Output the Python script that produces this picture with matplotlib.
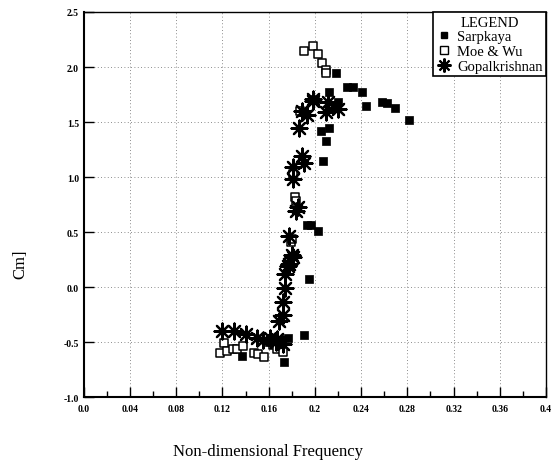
import matplotlib
matplotlib.use("Agg")
import matplotlib.pyplot as plt
from matplotlib.ticker import MultipleLocator, FixedLocator
from matplotlib.lines import Line2D

sarp_x = [0.137, 0.173, 0.177, 0.191, 0.160, 0.195, 0.193, 0.197, 0.203, 0.207, 0.210,
          0.205, 0.212, 0.212, 0.220, 0.218, 0.228, 0.233, 0.241, 0.244, 0.258, 0.262,
          0.269, 0.281]
sarp_y = [-0.63, -0.68, -0.46, -0.44, -0.50, 0.07, 0.56, 0.56, 0.51, 1.15, 1.33,
          1.42, 1.45, 1.77, 1.68, 1.945, 1.82, 1.82, 1.77, 1.65, 1.68, 1.67,
          1.63, 1.52]

moe_x = [0.118, 0.121, 0.124, 0.129, 0.133, 0.138, 0.147, 0.151, 0.156, 0.164, 0.167,
         0.172, 0.179, 0.180, 0.181, 0.183, 0.184, 0.187, 0.191, 0.198, 0.203, 0.206,
         0.210, 0.210, 0.200]
moe_y = [-0.60, -0.51, -0.58, -0.56, -0.56, -0.54, -0.60, -0.61, -0.64, -0.53, -0.56,
         -0.59, 0.41, 0.44, 1.03, 0.82, 0.78, 1.60, 2.15, 2.19, 2.12, 2.04,
         1.97, 1.95, 1.70]

gop_x = [0.120, 0.130, 0.140, 0.150, 0.155, 0.161, 0.167, 0.166, 0.172, 0.169, 0.172,
         0.172, 0.174, 0.174, 0.177, 0.178, 0.180, 0.181, 0.178, 0.184, 0.185, 0.181,
         0.181, 0.189, 0.191, 0.186, 0.189, 0.193, 0.198, 0.198, 0.211, 0.210, 0.220]
gop_y = [-0.40, -0.40, -0.43, -0.46, -0.48, -0.46, -0.47, -0.50, -0.52, -0.31, -0.25,
         -0.14, -0.01, 0.12, 0.19, 0.21, 0.29, 0.27, 0.46, 0.69, 0.73, 0.98,
         1.09, 1.19, 1.13, 1.45, 1.60, 1.56, 1.69, 1.71, 1.68, 1.59, 1.62]

x_ticks = [0.0, 0.04, 0.08, 0.12, 0.16, 0.2, 0.24, 0.28, 0.32, 0.36, 0.4]
x_labels = ["0.0", "0.04", "0.08", "0.12", "0.16", "0.2", "0.24", "0.28", "0.32", "0.36", "0.4"]
y_ticks = [-1.0, -0.5, 0.0, 0.5, 1.0, 1.5, 2.0, 2.5]
y_labels = ["-1.0", "-0.5", "0.0", "0.5", "1.0", "1.5", "2.0", "2.5"]

serif = ["Liberation Serif", "DejaVu Serif"]

fig = plt.figure(figsize=(5.51, 4.64), dpi=100)
ax = fig.add_axes([0.152, 0.142, 0.839, 0.830])

ax.set_xlim(0, 0.4)
ax.set_ylim(-1.0, 2.5)

ax.grid(True, which="major", linestyle=(0, (1, 3)), color="black", linewidth=0.6, alpha=0.6)
ax.set_axisbelow(True)

ax.scatter(sarp_x, sarp_y, marker="s", s=30, c="black", edgecolors="black", linewidths=0.5, zorder=3)
ax.scatter(moe_x, moe_y, marker="s", s=38, facecolors="white", edgecolors="black", linewidths=1.1, zorder=3)
ax.scatter(gop_x, gop_y, marker=(8, 2, 0), s=130, c="black", linewidths=1.6, zorder=4)

ax.xaxis.set_major_locator(FixedLocator(x_ticks))
ax.set_xticklabels(x_labels)
ax.xaxis.set_minor_locator(MultipleLocator(0.02))
ax.yaxis.set_major_locator(FixedLocator(y_ticks))
ax.set_yticklabels(y_labels)

ax.tick_params(axis="both", which="major", direction="in", length=7, width=1.0, labelsize=7)
ax.tick_params(axis="x", which="minor", direction="in", length=4, width=1.0)
ax.tick_params(axis="x", which="major", pad=5)
for lab in ax.get_xticklabels() + ax.get_yticklabels():
    lab.set_fontfamily(serif)
    lab.set_fontweight("bold")

for side in ["left", "bottom"]:
    ax.spines[side].set_linewidth(1.5)
for side in ["top", "right"]:
    ax.spines[side].set_linewidth(1.0)

fig.text(268 / 551, 1 - 452 / 464, "Non-dimensional Frequency", fontsize=12, family=serif,
         ha="center", va="center")
fig.text(20 / 551, 1 - 264 / 464, "Cm]", fontsize=12, family=serif, rotation=90,
         ha="center", va="center")

handles = [
    Line2D([], [], linestyle="none", marker="s", markersize=5, color="black"),
    Line2D([], [], linestyle="none", marker="s", markersize=6, markerfacecolor="white",
           markeredgecolor="black", markeredgewidth=1.0),
    Line2D([], [], linestyle="none", marker=(8, 2, 0), markersize=10, color="black", markeredgewidth=1.5),
]
leg = ax.legend(handles, ["Sarpkaya", "Moe & Wu", "Gopalkrishnan"], title="LEGEND",
                loc="upper right", bbox_to_anchor=(1.0, 1.0), frameon=True, fancybox=False,
                edgecolor="black", framealpha=1, borderpad=0.25, handletextpad=0.4,
                labelspacing=0.1, handlelength=1.0, borderaxespad=0.0,
                prop={"family": serif, "size": 10.5})
leg.get_title().set_fontfamily(serif)
leg.get_title().set_fontsize(10.5)
leg.get_frame().set_linewidth(1.2)

fig.savefig("out.png", dpi=100)
